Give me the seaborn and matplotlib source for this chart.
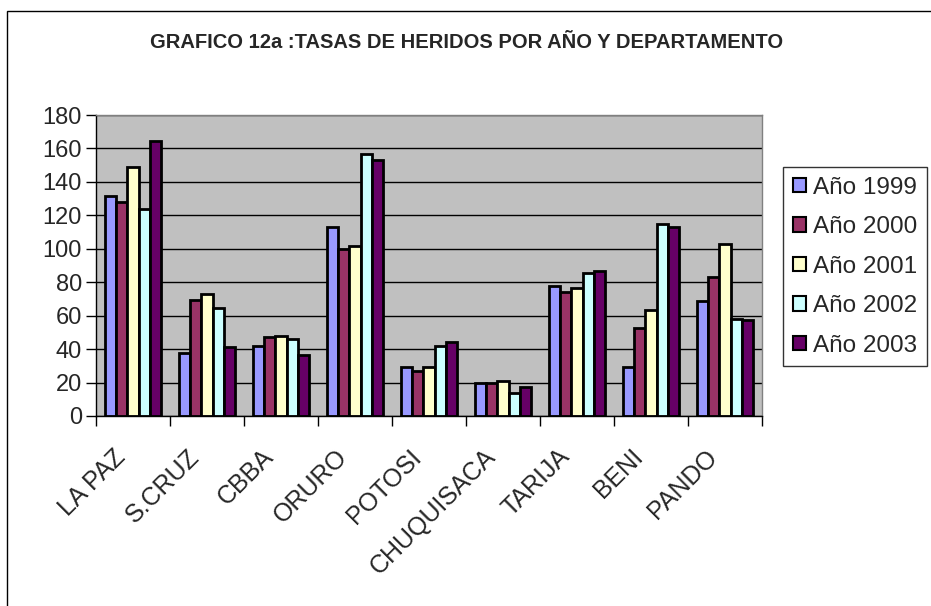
import numpy as np
import pandas as pd
import matplotlib.pyplot as plt
import matplotlib.transforms as mtransforms
import seaborn as sns
from matplotlib.patches import Rectangle

# datos
departamentos = ["LA PAZ", "S.CRUZ", "CBBA", "ORURO", "POTOSI",
                 "CHUQUISACA", "TARIJA", "BENI", "PANDO"]
anios = ["Año 1999", "Año 2000", "Año 2001", "Año 2002", "Año 2003"]

tasa_1999 = [131.6, 37.6, 41.6, 112.8, 29.6, 20.0, 77.6, 29.6, 69.0]
tasa_2000 = [128.0, 69.6, 47.2, 100.0, 27.0, 19.6, 74.4, 52.6, 83.2]
tasa_2001 = [148.8, 73.2, 48.0, 101.6, 29.6, 20.8, 76.4, 63.2, 102.6]
tasa_2002 = [123.6, 64.6, 45.8, 156.4, 41.6, 14.0, 85.6, 115.0, 58.2]
tasa_2003 = [164.4, 41.4, 36.2, 153.0, 44.2, 17.2, 86.6, 113.2, 57.2]

colores = ["#9999FF", "#993366", "#FFFFCC", "#CCFFFF", "#660066"]

series = [tasa_1999, tasa_2000, tasa_2001, tasa_2002, tasa_2003]
df = pd.DataFrame({
    "Departamento": departamentos * len(anios),
    "Anio": [a for a in anios for _ in departamentos],
    "Tasa": [v for s in series for v in s],
})

sns.set_style("white")
plt.rcParams["font.family"] = ["Liberation Sans", "DejaVu Sans"]

fig = plt.figure(figsize=(9.31, 6.06), dpi=100)
W, H = 931, 606
ax = fig.add_axes([96 / W, 1 - 416 / H, (762 - 96) / W, (416 - 115) / H])
ax.set_facecolor("#C0C0C0")
ax.set_axisbelow(True)

sns.barplot(data=df, x="Departamento", y="Tasa", hue="Anio",
            order=departamentos, hue_order=anios, palette=colores,
            width=0.76, edgecolor="black", linewidth=2, saturation=1,
            ax=ax, legend=True)

ax.set_xlim(-0.5, len(departamentos) - 0.5)
ax.set_ylim(0, 180)
ax.set_yticks(np.arange(0, 181, 20))
ax.yaxis.grid(True, color="black", linewidth=1)
ax.set_xlabel("")
ax.set_ylabel("")

# marcas del eje x en los limites de cada categoria
ax.set_xticks(np.arange(len(departamentos)))
ax.set_xticks(np.arange(-0.5, len(departamentos), 1), minor=True)
ax.tick_params(axis="x", which="both", bottom=True)
ax.tick_params(axis="x", which="major", length=0, pad=12)
ax.tick_params(axis="x", which="minor", length=7, width=1, color="black", direction="out")
ax.tick_params(axis="y", left=True, length=7, width=1, color="black", direction="out",
               labelsize=17, pad=3)
ax.set_xticklabels(departamentos, rotation=45, ha="right", va="top",
                   rotation_mode="anchor", fontsize=18)
desplazar = mtransforms.ScaledTranslation(-20 / 100, -12 / 100, fig.dpi_scale_trans)
for lbl in ax.get_xticklabels():
    lbl.set_transform(lbl.get_transform() + desplazar)

for lado in ["left", "bottom"]:
    ax.spines[lado].set_color("black")
    ax.spines[lado].set_linewidth(1)
for lado in ["top", "right"]:
    ax.spines[lado].set_color("#808080")
    ax.spines[lado].set_linewidth(1)

leg = ax.legend(loc="upper left", bbox_to_anchor=(783 / W, 1 - 167 / H),
                bbox_transform=fig.transFigure, fontsize=17.5, frameon=True,
                fancybox=False, handlelength=0.55, handleheight=0.55,
                handletextpad=0.3, labelspacing=0.72, borderpad=0.4,
                borderaxespad=0)
leg.get_frame().set_edgecolor("black")
leg.get_frame().set_linewidth(1)
for h in leg.legend_handles:
    h.set_edgecolor("black")
    h.set_linewidth(1.5)

fig.text(467 / W, 1 - 43 / H,
         "GRAFICO 12a :TASAS DE HERIDOS POR AÑO Y DEPARTAMENTO",
         ha="center", va="center", fontsize=14.5, fontweight="bold")

# borde exterior del area del grafico
fig.patches.append(Rectangle((7 / W, -0.1), 1.1, 1 - 11 / H + 0.1,
                             transform=fig.transFigure, fill=False,
                             edgecolor="black", linewidth=1))

fig.savefig("out.png", dpi=100)
